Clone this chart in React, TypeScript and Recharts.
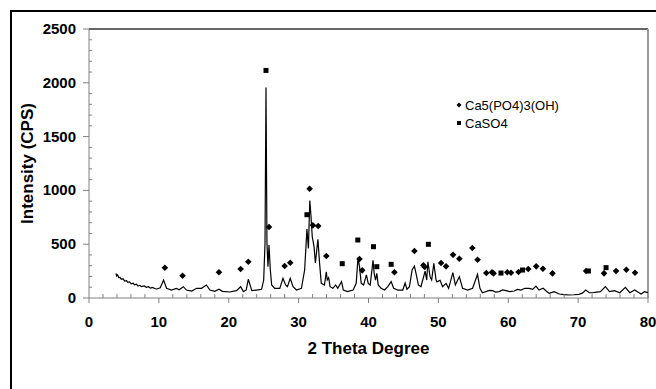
import React from 'react';
import {
  ComposedChart,
  Line,
  Scatter,
  XAxis,
  YAxis,
  Legend,
  ReferenceLine,
} from 'recharts';

// XRD scan (2θ, counts)
const scanAngle = [
  3.86, 3.95, 4.1, 4.25, 4.43, 4.6, 4.9, 5.1, 5.38, 5.55, 5.8, 6.05, 6.33, 6.5, 6.8, 7.0,
  7.29, 7.5, 7.9, 8.2, 8.48, 8.8, 9.1, 9.4, 9.67, 10.2, 10.67, 11.1,
  11.8, 12.5, 12.9, 13.5, 13.95, 14.7, 15.4, 16.1, 16.8, 17.3, 18.0, 18.6, 19.1, 20.1, 21.1,
  21.7, 22.1, 22.5, 22.8, 23.3, 23.96, 24.7, 25.0, 25.19, 25.33, 25.47, 25.61, 25.76, 25.95,
  26.14, 26.57, 27.3, 27.76, 28.14, 28.4, 28.8, 29.2, 29.7, 30.4, 30.86, 31.19, 31.4, 31.6,
  31.76, 31.95, 32.2, 32.4, 32.76, 33.0, 33.24, 33.7, 33.96, 34.1, 34.3, 34.5, 34.9, 35.3,
  35.6, 36.14, 36.4, 37.0, 37.8, 38.24, 38.5, 38.71, 38.96, 39.3, 39.7, 39.96, 40.24, 40.65,
  40.81, 41.0, 41.19, 41.39, 41.8, 42.3, 42.76, 43.24, 43.6, 44.2, 44.9, 45.24, 45.5, 45.86,
  46.24, 46.57, 46.8, 47.14, 47.5, 47.76, 48.1, 48.33, 48.5, 48.81, 49.04, 49.35, 49.67,
  49.8, 50.24, 50.6, 51.1, 51.47, 52.07, 52.43, 53.0, 53.47, 54.2, 54.9, 55.6, 55.95, 56.3,
  56.8, 57.3, 57.76, 58.2, 58.7, 59.2, 59.67, 60.2, 60.86, 61.3, 61.8, 62.4, 63.0, 63.5,
  63.96, 64.4, 65.0, 65.5, 65.86, 66.57, 67.3, 68.0, 68.7, 69.4, 70.1, 70.6, 71.1, 71.6,
  72.05, 72.6, 73.2, 73.9, 74.5, 75.2, 75.96, 76.76, 77.4, 78.1, 79.0, 79.5, 80.0,
];
const scanCounts = [
  229, 205, 215, 190, 192, 175, 178, 158, 161, 146, 150, 132, 137, 122, 128, 112,
  118, 106, 112, 100, 105, 92, 98, 88, 84, 95, 167, 90,
  74, 90, 76, 105, 74, 65, 90, 90, 121, 74, 62, 81, 62, 56, 68,
  105, 59, 75, 174, 68, 74, 81, 167, 508, 1957, 508, 291, 492, 260,
  121, 90, 90, 183, 121, 105, 183, 105, 74, 90, 260, 640, 461, 905,
  771, 569, 480, 325, 545, 322, 136, 121, 244, 167, 189, 105, 90, 121,
  90, 152, 74, 59, 74, 136, 375, 291, 136, 121, 214, 136, 121, 350,
  229, 167, 229, 121, 90, 74, 105, 152, 90, 74, 74, 140, 81, 105,
  260, 297, 229, 121, 105, 167, 250, 167, 337, 198, 167, 322, 167,
  150, 165, 105, 136, 90, 235, 121, 198, 90, 74, 90, 220, 90, 49,
  59, 70, 68, 55, 59, 75, 68, 60, 65, 80, 74, 90, 90, 80,
  111, 74, 90, 60, 44, 59, 37, 32, 28, 30, 34, 45, 74, 50,
  49, 55, 59, 105, 59, 68, 49, 99, 49, 74, 37, 59, 50,
];

// Ca5(PO4)3(OH) peak markers
const hapAngle = [
  10.86, 13.39, 18.6, 21.7, 22.8, 25.76, 28.0, 28.8, 31.57, 32.04, 32.8, 33.96, 38.71, 39.1,
  43.71, 46.57, 47.86, 48.04, 50.39, 51.1, 52.1, 53.0, 54.86, 55.61, 56.86, 57.67, 57.9,
  59.86, 60.39, 61.47, 62.86, 64.0, 64.96, 66.33, 71.14, 73.71, 75.43, 76.9, 78.14,
];
const hapCounts = [
  281, 207, 239, 269, 337, 660, 297, 328, 1015, 675, 669, 390, 362, 257,
  239, 437, 304, 288, 325, 294, 402, 365, 464, 356, 232, 239, 229,
  239, 235, 242, 269, 294, 272, 229, 251, 229, 251, 263, 235,
];

// CaSO4 peak markers
const sulfAngle = [25.33, 31.19, 36.24, 38.47, 40.71, 41.19, 43.24, 48.57, 58.96, 62.04, 71.47, 74.0];
const sulfCounts = [2115, 774, 319, 539, 477, 291, 313, 499, 232, 260, 251, 282];

const xTicks = [0, 2, 4, 6, 8, 10, 12, 14, 16, 18, 20, 22, 24, 26, 28, 30, 32, 34, 36, 38, 40,
  42, 44, 46, 48, 50, 52, 54, 56, 58, 60, 62, 64, 66, 68, 70, 72, 74, 76, 78, 80];
const yTicks = [0, 100, 200, 300, 400, 500, 600, 700, 800, 900, 1000, 1100, 1200, 1300, 1400,
  1500, 1600, 1700, 1800, 1900, 2000, 2100, 2200, 2300, 2400, 2500];

const scan = scanAngle.map((x, i) => ({ x, y: scanCounts[i] }));
const hap = hapAngle.map((x, i) => ({ x, y: hapCounts[i] }));
const sulf = sulfAngle.map((x, i) => ({ x, y: sulfCounts[i] }));

const FONT = "Arial, 'Liberation Sans', sans-serif";
const AXIS = '#808080';

const XTick = (props: any) => {
  const { x, y, payload } = props;
  const major = payload.value % 10 === 0;
  return (
    <g>
      <line x1={x} x2={x} y1={y} y2={major ? y + 5 : y - 4} stroke={AXIS} />
      {major && (
        <text x={x} y={y + 29} textAnchor="middle" fontFamily={FONT} fontWeight="bold" fontSize={15} fill="#000">
          {payload.value}
        </text>
      )}
    </g>
  );
};

const YTick = (props: any) => {
  const { x, y, payload } = props;
  const major = payload.value % 500 === 0;
  return (
    <g>
      <line x1={x} x2={major ? x - 6 : x + 3} y1={y} y2={y} stroke={AXIS} />
      {major && (
        <text x={x - 13} y={y + 5} textAnchor="end" fontFamily={FONT} fontWeight="bold" fontSize={15} fill="#000">
          {payload.value}
        </text>
      )}
    </g>
  );
};

const Diamond = (props: any) => {
  const { cx, cy } = props;
  const r = 3.3;
  return <path d={`M${cx},${cy - r}L${cx + r},${cy}L${cx},${cy + r}L${cx - r},${cy}Z`} fill="#000" />;
};

const Square = (props: any) => {
  const { cx, cy } = props;
  return <rect x={cx - 2.5} y={cy - 2.5} width={5} height={5} fill="#000" />;
};

const LegendBox = () => (
  <svg width={170} height={40} style={{ display: 'block' }}>
    <path d="M7,6.5L9.5,9L7,11.5L4.5,9Z" fill="#000" />
    <text x={13} y={13.5} fontFamily={FONT} fontSize={13} fill="#000">Ca5(PO4)3(OH)</text>
    <rect x={5} y={25} width={4} height={4} fill="#000" />
    <text x={13} y={31.5} fontFamily={FONT} fontSize={13} fill="#000">CaSO4</text>
  </svg>
);

export default function App() {
  return (
    <div style={{ position: 'fixed', left: 0, top: 0, width: 656, height: 389, overflow: 'hidden', background: '#fff' }}>
      <div
        style={{
          position: 'absolute',
          left: 10,
          top: 10,
          width: 700,
          height: 420,
          border: '2px solid #000',
          boxSizing: 'border-box',
        }}
      />
      <div style={{ position: 'absolute', left: 0, top: 0 }}>
        <ComposedChart width={656} height={389} margin={{ top: 29, right: 8, bottom: 0, left: 0 }}>
          <XAxis
            type="number"
            dataKey="x"
            domain={[0, 80]}
            ticks={xTicks}
            interval={0}
            allowDataOverflow
            height={91}
            tickSize={0}
            tickMargin={0}
            tickLine={false}
            axisLine={{ stroke: AXIS }}
            tick={<XTick />}
            label={{
              value: '2 Theta Degree',
              content: (p: any) => {
                const vb = p.viewBox || {};
                return (
                  <text x={vb.x + vb.width / 2} y={vb.y + 56} textAnchor="middle" fontFamily={FONT} fontWeight="bold" fontSize={17} fill="#000">
                    2 Theta Degree
                  </text>
                );
              },
            }}
          />
          <YAxis
            type="number"
            dataKey="y"
            domain={[0, 2500]}
            ticks={yTicks}
            interval={0}
            allowDataOverflow
            width={89}
            tickSize={0}
            tickMargin={0}
            tickLine={false}
            axisLine={{ stroke: AXIS }}
            tick={<YTick />}
            label={{
              value: 'Intensity (CPS)',
              content: (p: any) => {
                const vb = p.viewBox || {};
                const cx = 33;
                const cy = vb.y + vb.height / 2;
                return (
                  <text x={cx} y={cy} transform={`rotate(-90 ${cx} ${cy})`} textAnchor="middle" fontFamily={FONT} fontWeight="bold" fontSize={17} fill="#000">
                    Intensity (CPS)
                  </text>
                );
              },
            }}
          />
          <ReferenceLine y={2500} stroke="#333" strokeWidth={1.5} />
          <ReferenceLine x={80} stroke="#999" strokeWidth={2} />
          <Line
            data={scan}
            dataKey="y"
            type="linear"
            stroke="#000"
            strokeWidth={1.2}
            dot={false}
            isAnimationActive={false}
          />
          <Scatter data={hap} dataKey="y" shape={<Diamond />} isAnimationActive={false} />
          <Scatter data={sulf} dataKey="y" shape={<Square />} isAnimationActive={false} />
          <Legend
            layout="vertical"
            align="center"
            verticalAlign="middle"
            content={<LegendBox />}
            wrapperStyle={{ left: 452, top: 96, width: 170, height: 40 }}
          />
        </ComposedChart>
      </div>
    </div>
  );
}
